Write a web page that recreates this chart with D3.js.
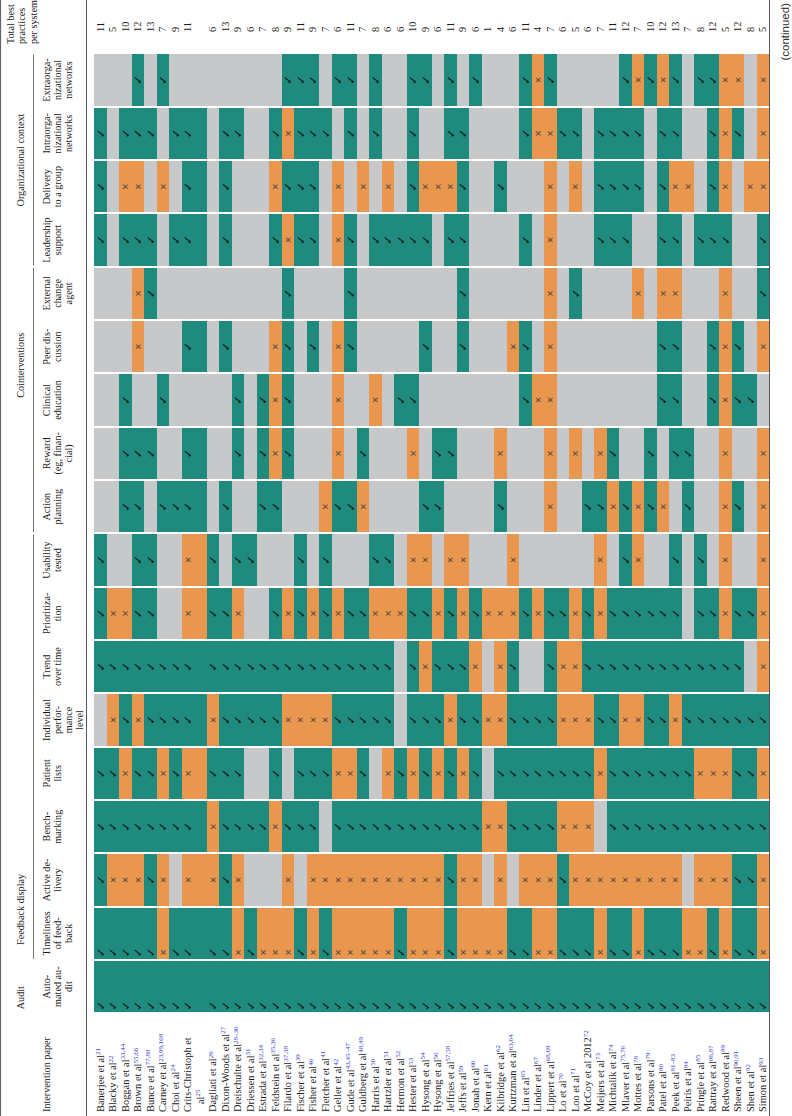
<!DOCTYPE html>
<html><head><meta charset="utf-8">
<script src="https://cdn.jsdelivr.net/npm/d3@7"></script>
<style>html,body{margin:0;padding:0;background:#fff;}svg{display:block;}</style>
</head><body>
<svg id="chart" width="792" height="1116"></svg>
<script>
// ---------------- DATA ----------------
const papers = ["Banerjee et al","Blacky et al","Boggan et al","Brown et al","Bunce et al","Carney et al","Choi et al","Crits-Christoph et\nal","Dagliati et al","Dixon-Woods et al","Dreischulte et al","Driessen et al","Estrada et al","Feldstein et al","Filardo et al","Fischer et al","Fisher et al","Fletcher et al","Geller et al","Gude et al","Guldberg et al","Harris et al","Hartzler et al","Hermon et al","Hester et al","Hysong et al","Hysong et al","Jeffries et al","Jeffs et al","Jonah et al","Kern et al","Kilbridge et al","Kurtzman et al","Lin et al","Linder et al","Lippert et al","Lo et al","Loo et al","McCoy et al 2012","Meijers et al","Michtalik et al","Mlaver et al","Mottes et al","Parsons et al","Patel et al","Peek et al","Peiris et al","Pringle et al","Rattray et al","Redwood et al","Sheen et al","Shen et al","Simon et al"];
const refs = ["21","22","33,44","55,66","77,88","23,99,108","24","25","26","27","28–30","31","32,34","35,36","37,38","39","40","41","42","43,45–47","48,49","50","51","52","53","54","56","57,58","59","60","61","62","63,64","65","67","68,69","70","71","72","73","74","75,76","78","79","80","81–83","84","85","86,87","89","90,91","92","93"];
const totals = [11,5,10,12,13,7,9,11,6,13, 9,6,7,8,9,11,9,7,6,11, 7,8,6,6,10,9,6,11,9,6, 1,4,6,11,4,7,6,5,6,7, 11,12,7,10,12,13,7,8,12,5, 12,8,5];

const criteria = ["Automated audit","Timeliness of feedback","Active delivery","Benchmarking","Patient lists","Individual performance level","Trend over time","Prioritization","Usability tested","Action planning","Reward","Clinical education","Peer discussion","External change agent","Leadership support","Delivery to a group","Intraorganizational networks","Extraorganizational networks"];
const criteriaHeaders = [["Auto-","mated au-","dit"],["Timeliness","of feed-","back"],["Active de-","livery"],["Bench-","marking"],["Patient","lists"],["Individual","perfor-","mance","level"],["Trend","over time"],["Prioritiza-","tion"],["Usability","tested"],["Action","planning"],["Reward","(eg, finan-","cial)"],["Clinical","education"],["Peer dis-","cussion"],["External","change","agent"],["Leadership","support"],["Delivery","to a group"],["Intraorga-","nizational","networks"],["Extraorga-","nizational","networks"]];
const groups = ["Audit","Feedback display","Cointerventions","Organizational context"];
const groupFirst = ["Automated audit","Timeliness of feedback","Action planning","Leadership support"];
const groupLast  = ["Automated audit","Usability tested","External change agent","Extraorganizational networks"];
const totalHeader = ["Total best","practices","per system"];

// Y = best practice present (✓), N = absent (×), - = not reported
const automatedAudit = "YYYYYYYYYY"+"YYYYYYYYYY"+"YYYYYYYYYY"+"YYYYYYYYYY"+"YYYYYYYYYY"+"YYY";
const timeliness     = "YYYYYNYYYY"+"NYNNNYNYNN"+"NNNYNNNYNN"+"NNYYNNYYYN"+"YYNYYYNNYN"+"YYN";
const activeDelivery = "YNNNYN-NNY"+"N---N-NNNN"+"NNNNNNNYNN"+"-N-NNNYNNN"+"NNNNNN-NNN"+"YYN";
const benchmarking   = "YYYYYYYYNY"+"YYYNYYY-YY"+"YYYYYYYYYY"+"NNYYYYNNN-"+"YYYYYYYYYY"+"YYY";
const patientLists   = "YYNYYNYNYY"+"Y--Y-YYYNN"+"Y-NYNYNYNY"+"-YYYYYYYYN"+"YYYYYYYNNN"+"YYN";
const individual     = "-NYNYYYYNY"+"YYYYNNNNYY"+"YYY-YYYNYY"+"NNYYYYNNNY"+"YNNYYNYYYY"+"YYY";
const trend          = "YYYYYYYYYY"+"YYYYYYYYYY"+"YYY-YNYYYN"+"-NY--YNNYY"+"YYYYYYYYYY"+"Y-N";
const prioritization = "YNNYY--NYY"+"N--YNYNYNY"+"YNNNYYNYNY"+"NNNYNYYNYN"+"YYYYYY-YYN"+"YYN";
const usability      = "Y--YY--NY-"+"YY---Y-Y--"+"-YY-NN-NN-"+"--N------N"+"-YN--Y-Y-N"+"--N";
const actionPlanning = "--YY-YYY-Y"+"--YY---NYY"+"N----YY---"+"-Y---N--YY"+"NYNYN-Y--N"+"Y-N";
const reward         = "--YYY--Y--"+"Y-YNY---N-"+"Y---N-YY--"+"-N---N-N-N"+"Y--Y-YY--N"+"--N";
const clinicalEd     = "--Y--Y----"+"Y-YNY---N-"+"-N-YY-----"+"---YNN----"+"----YY--YN"+"YY-";
const peerDiscussion = "---N---Y-Y"+"---NY-Y-NY"+"-----Y--Y-"+"--NY-N----"+"----YY--YN"+"Y-N";
const externalAgent  = "---NY-----"+"----Y----Y"+"--------Y-"+"-----N-Y--"+"--N-NN---N"+"--Y";
const leadership     = "Y-YYY-YY-Y"+"---YNYY-NY"+"-YYYYY-YY-"+"---Y-N---Y"+"YY--YY-YYY"+"--Y";
const deliveryGroup  = "Y-NN-N-Y-Y"+"---NYYY-N-"+"N-N-YNNNY-"+"-Y---N-N-Y"+"YYY-YNN-YN"+"-NN";
const intraOrg       = "Y-YYY-YY-Y"+"Y--YNYYY-Y"+"-Y--Y--YY-"+"---YNNYY-Y"+"YYY-YY--YN"+"Y-N";
const extraOrg       = "---Y-Y----"+"----YYY-YY"+"-Y--YY-Y-Y"+"---YNY----"+"-YNYNY-YYN"+"N-N";

const seriesByCriterion = [automatedAudit,timeliness,activeDelivery,benchmarking,patientLists,individual,trend,prioritization,usability,actionPlanning,reward,clinicalEd,peerDiscussion,externalAgent,leadership,deliveryGroup,intraOrg,extraOrg];

// ---------------- DRAWING ----------------
const W = 792, H = 1116;
const SERIF = "'Liberation Serif','Times New Roman',serif";
const colors = {Y:"#1f8b7e", N:"#e9964f", "-":"#c7c8ca"};
const svg = d3.select("#chart");
// logical table (lx along criteria, ly along papers), rotated -90deg onto the page
const g = svg.append("g").attr("transform", `translate(0,${H}) rotate(-90)`);

const spans = papers.map(p => p.split("\n").length);
const starts = []; let acc = 0; spans.forEach(s => { starts.push(acc); acc += s; });
const yS = d3.scaleLinear().domain([0, acc]).range([94, 769]);
const xB = d3.scaleBand().domain(criteria).range([102.67, 1062.67]).paddingInner(0.04).paddingOuter(0.02);
const bw = xB.bandwidth();

const cells = [];
criteria.forEach((c, ci) => papers.forEach((p, pi) => cells.push({c, ci, pi, v: seriesByCriterion[ci][pi]})));

g.append("g").selectAll("rect").data(cells).join("rect")
  .attr("x", d => xB(d.c)).attr("width", bw)
  .attr("y", d => yS(starts[d.pi]))
  .attr("height", d => yS(starts[d.pi] + spans[d.pi]) - yS(starts[d.pi]))
  .attr("fill", d => colors[d.v])
  .attr("shape-rendering", "crispEdges");

const startAligned = new Set(["Automated audit","Timeliness of feedback"]);
const markX = d => startAligned.has(d.c) ? xB(d.c) + 6.5 : xB(d.c) + bw / 2;
const markY = d => yS(starts[d.pi] + 0.5);

g.append("g").selectAll("text").data(cells.filter(d => d.v === "Y")).join("text")
  .attr("x", markX).attr("y", markY).attr("dy", "0.38em")
  .attr("text-anchor", "middle")
  .attr("font-family", "'DejaVu Sans',sans-serif").attr("font-size", 11.5).attr("font-weight", "bold")
  .attr("fill", "#121212").text("✓");
g.append("g").selectAll("text").data(cells.filter(d => d.v === "N")).join("text")
  .attr("x", markX).attr("y", markY).attr("dy", "0.36em")
  .attr("text-anchor", "middle")
  .attr("font-family", "'DejaVu Sans',sans-serif").attr("font-size", 8.5)
  .attr("fill", "#3a3a3a").text("×");

// paper labels
const labG = g.append("g").attr("font-family", SERIF).attr("font-size", 10.4).attr("fill", "#1a1a1a");
papers.forEach((p, pi) => {
  const lines = p.split("\n");
  lines.forEach((line, li) => {
    const t = labG.append("text")
      .attr("x", 4 + (li > 0 ? 8 : 0))
      .attr("y", yS(starts[pi] + li + 0.5) + 3.5);
    t.append("tspan").text(line);
    if (li === lines.length - 1) {
      t.append("tspan").attr("dy", -3.7).attr("font-size", 7).attr("fill", "#3b3bd0").text(refs[pi]);
    }
  });
});

// totals
g.append("g").selectAll("text").data(totals).join("text")
  .attr("x", 1084).attr("y", (d, i) => yS(starts[i] + 0.5) + 3.5)
  .attr("font-family", SERIF).attr("font-size", 10.4).attr("fill", "#1a1a1a")
  .text(d => d);

// header
const hdr = g.append("g").attr("font-family", SERIF).attr("font-size", 10.2).attr("fill", "#1a1a1a");
hdr.append("text").attr("x", 4).attr("y", 49.5).text("Intervention paper");
criteria.forEach((c, ci) => {
  criteriaHeaders[ci].forEach((line, li) => {
    hdr.append("text").attr("x", xB(c) + bw / 2).attr("y", 49.5 + li * 11.3)
      .attr("text-anchor", "middle").text(line);
  });
});
totalHeader.forEach((line, li) => {
  hdr.append("text").attr("x", 1072).attr("y", 13.5 + li * 11.5).text(line);
});

// group labels and rules
const groupLabelPos = [
  {x: xB("Automated audit") + 3, anchor: "start"},
  {x: xB("Timeliness of feedback") + 14, anchor: "start"},
  {x: xB("Peer discussion") + 7, anchor: "middle"},
  {x: (xB("Leadership support") + xB("Extraorganizational networks") + bw) / 2, anchor: "middle"}
];
groups.forEach((gname, gi) => {
  hdr.append("text").attr("x", groupLabelPos[gi].x).attr("y", 23.5)
    .attr("text-anchor", groupLabelPos[gi].anchor).text(gname);
  if (gi > 0) {
    g.append("line").attr("x1", xB(groupFirst[gi])).attr("x2", xB(groupLast[gi]) + bw)
      .attr("y1", 33.5).attr("y2", 33.5).attr("stroke", "#555").attr("stroke-width", 0.8);
  }
});

// rules
[0.6, 86.5, 769.5].forEach(y => {
  g.append("line").attr("x1", 0).attr("x2", H).attr("y1", y).attr("y2", y)
    .attr("stroke", "#555").attr("stroke-width", 1);
});

g.append("text").attr("x", 1113).attr("y", 789).attr("text-anchor", "end")
  .attr("font-family", "'Liberation Sans',Arial,sans-serif").attr("font-size", 11.5)
  .attr("fill", "#333").text("(continued)");
</script>
</body></html>
